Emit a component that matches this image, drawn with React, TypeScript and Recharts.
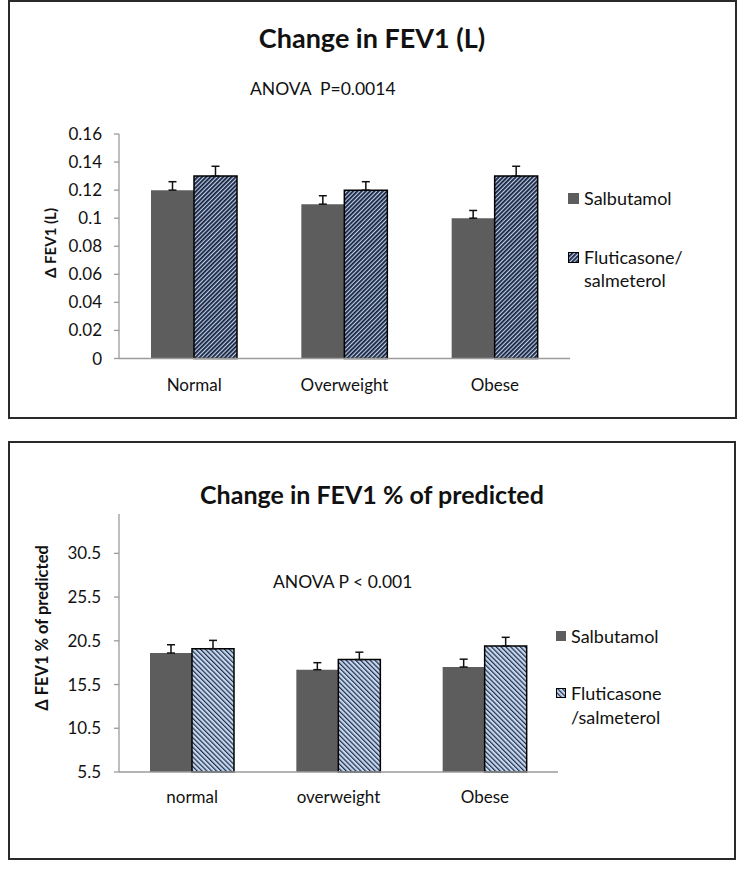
import React from "react";
import { BarChart, Bar, XAxis, YAxis, ErrorBar, Legend } from "recharts";

const FONT = "Lato, 'Open Sans', sans-serif";

// top panel: change in FEV1 (L)
const topGroups = ["Normal", "Overweight", "Obese"];
const topSalbutamol = [0.12, 0.11, 0.1];
const topSalbutamolErr = [0.006, 0.006, 0.0055];
const topFluticasone = [0.13, 0.12, 0.13];
const topFluticasoneErr = [0.007, 0.006, 0.007];
const topTicks = [0, 0.02, 0.04, 0.06, 0.08, 0.1, 0.12, 0.14, 0.16];
const topNames = ["Salbutamol", "Fluticasone/ salmeterol"];

// bottom panel: change in FEV1 % of predicted
const bottomGroups = ["normal", "overweight", "Obese"];
const bottomSalbutamol = [19.1, 17.2, 17.5];
const bottomSalbutamolErr = [0.95, 0.8, 0.9];
const bottomFluticasone = [19.6, 18.35, 19.9];
const bottomFluticasoneErr = [0.95, 0.85, 1.0];
const bottomTicks = [5.5, 10.5, 15.5, 20.5, 25.5, 30.5];
const bottomNames = ["Salbutamol", "Fluticasone /salmeterol"];

const SAL_FILL = "#5d5d5d";
const AXIS = "#9b9b9b";
const seriesOrder = ["sal", "flu"];

function buildRows(groups: string[], sal: number[], salErr: number[], flu: number[], fluErr: number[]) {
  return groups.map((g, i) => ({
    group: g,
    sal: sal[i],
    salErr: [0, salErr[i]],
    flu: flu[i],
    fluErr: [0, fluErr[i]],
  }));
}

const topData = buildRows(topGroups, topSalbutamol, topSalbutamolErr, topFluticasone, topFluticasoneErr);
const bottomData = buildRows(bottomGroups, bottomSalbutamol, bottomSalbutamolErr, bottomFluticasone, bottomFluticasoneErr);

function Hatch({ id, dir }: { id: string; dir: "up" | "down" }) {
  if (dir === "up") {
    return (
      <pattern id={id} width="3" height="3" patternUnits="userSpaceOnUse" patternTransform="rotate(45)">
        <rect width="3" height="3" fill="#bcd2ec" />
        <rect width="1.8" height="3" fill="#18203a" />
      </pattern>
    );
  }
  return (
    <pattern id={id} width="3.4" height="3.4" patternUnits="userSpaceOnUse" patternTransform="rotate(-45)">
      <rect width="3.4" height="3.4" fill="#c4d8ef" />
      <rect width="1.2" height="3.4" fill="#222c48" />
    </pattern>
  );
}

function makeLegend(opts: { size: number; lineHeight: number; rowGap: number; dir: "up" | "down"; id: string }) {
  return function LegendContent(props: any) {
    const payload = [...(props.payload || [])].sort(
      (a: any, b: any) => seriesOrder.indexOf(a.dataKey) - seriesOrder.indexOf(b.dataKey)
    );
    return (
      <div style={{ fontFamily: FONT, fontSize: 18, color: "#111", textAlign: "left" }}>
        {payload.map((entry: any, i: number) => (
          <div
            key={i}
            style={{ display: "flex", alignItems: "flex-start", lineHeight: `${opts.lineHeight}px`, marginTop: i === 0 ? 0 : opts.rowGap }}
          >
            <svg
              width={opts.size}
              height={opts.size}
              style={{ marginTop: (opts.lineHeight - opts.size) / 2, marginRight: 5, flex: "none" }}
            >
              {entry.dataKey === "flu" ? (
                <>
                  <defs>
                    <Hatch id={opts.id} dir={opts.dir} />
                  </defs>
                  <rect x={0.5} y={0.5} width={opts.size - 1} height={opts.size - 1} fill={`url(#${opts.id})`} stroke="#000" strokeWidth={1} />
                </>
              ) : (
                <rect width={opts.size} height={opts.size} fill={SAL_FILL} />
              )}
            </svg>
            <span style={{ width: 112 }}>{entry.value}</span>
          </div>
        ))}
      </div>
    );
  };
}

const TopLegend = makeLegend({ size: 11, lineHeight: 23, rowGap: 36, dir: "up", id: "legHatchUp" });
const BottomLegend = makeLegend({ size: 10, lineHeight: 24, rowGap: 33, dir: "down", id: "legHatchDown" });

function Txt({ x, y, size, bold, children, center }: any) {
  return (
    <div
      style={{
        position: "absolute",
        left: center ? 0 : x,
        width: center ? 744 : undefined,
        textAlign: center ? "center" : "left",
        top: y - size * 0.53,
        fontFamily: FONT,
        fontSize: size,
        fontWeight: bold ? 700 : 400,
        lineHeight: 1,
        whiteSpace: "pre",
        color: "#111",
      }}
    >
      {children}
    </div>
  );
}

function VTxt({ x, y, size, children }: any) {
  return (
    <div
      style={{
        position: "absolute",
        left: x,
        top: y,
        transform: "translate(-50%, -50%) rotate(-90deg)",
        fontFamily: FONT,
        fontSize: size,
        fontWeight: 700,
        lineHeight: 1,
        whiteSpace: "pre",
        color: "#111",
      }}
    >
      {children}
    </div>
  );
}

const tickStyle = { fill: "#111", fontSize: 17, fontFamily: FONT };

export default function App() {
  return (
    <div style={{ position: "absolute", left: 0, top: 0, width: 744, height: 870, background: "#fff", overflow: "hidden" }}>
      <div style={{ position: "absolute", left: 8, top: 0, width: 725, height: 415, border: "2px solid #2a2a2a" }} />
      <div style={{ position: "absolute", left: 8, top: 441, width: 724, height: 415, border: "2px solid #2a2a2a" }} />

      <div style={{ position: "absolute", left: 0, top: 0 }}>
        <BarChart
          width={744}
          height={420}
          data={topData}
          margin={{ top: 134, right: 174, bottom: 31.5, left: 59 }}
          barGap={0}
          barSize={43}
        >
          <defs>
            <Hatch id="hatchUp" dir="up" />
          </defs>
          <XAxis
            dataKey="group"
            tickLine={false}
            axisLine={{ stroke: AXIS, strokeWidth: 1.3 }}
            tick={tickStyle}
            tickMargin={14}
            height={30}
            interval={0}
          />
          <YAxis
            domain={[0, 0.16]}
            ticks={topTicks}
            interval={0}
            width={60}
            tickSize={5}
            tickMargin={12}
            tickLine={{ stroke: AXIS, strokeWidth: 1.3 }}
            axisLine={{ stroke: AXIS, strokeWidth: 1.3 }}
            tick={tickStyle}
          />
          <Legend
            content={TopLegend}
            layout="vertical"
            verticalAlign="middle"
            align="center"
            wrapperStyle={{ left: 568, top: 186.5, width: 170 }}
          />
          <Bar dataKey="sal" name={topNames[0]} fill={SAL_FILL} isAnimationActive={false}>
            <ErrorBar dataKey="salErr" width={4} stroke="#111" strokeWidth={1.5} />
          </Bar>
          <Bar dataKey="flu" name={topNames[1]} fill="url(#hatchUp)" stroke="#000" strokeWidth={1.5} isAnimationActive={false}>
            <ErrorBar dataKey="fluErr" width={4} stroke="#111" strokeWidth={1.5} />
          </Bar>
        </BarChart>
      </div>

      <div style={{ position: "absolute", left: 0, top: 440 }}>
        <BarChart
          width={744}
          height={430}
          data={bottomData}
          margin={{ top: 74, right: 186, bottom: 68, left: 59 }}
          barGap={0}
          barSize={42}
        >
          <defs>
            <Hatch id="hatchDown" dir="down" />
          </defs>
          <XAxis
            dataKey="group"
            tickLine={false}
            axisLine={{ stroke: AXIS, strokeWidth: 1.3 }}
            tick={tickStyle}
            tickMargin={13}
            height={30}
            interval={0}
          />
          <YAxis
            domain={[5.5, 35]}
            ticks={bottomTicks}
            interval={0}
            width={60}
            tickSize={5}
            tickMargin={13}
            tickLine={{ stroke: AXIS, strokeWidth: 1.3 }}
            axisLine={{ stroke: AXIS, strokeWidth: 1.3 }}
            tick={tickStyle}
          />
          <Legend
            content={BottomLegend}
            layout="vertical"
            verticalAlign="middle"
            align="center"
            wrapperStyle={{ left: 556, top: 184, width: 170 }}
          />
          <Bar dataKey="sal" name={bottomNames[0]} fill={SAL_FILL} isAnimationActive={false}>
            <ErrorBar dataKey="salErr" width={4} stroke="#111" strokeWidth={1.5} />
          </Bar>
          <Bar dataKey="flu" name={bottomNames[1]} fill="url(#hatchDown)" stroke="#000" strokeWidth={1.5} isAnimationActive={false}>
            <ErrorBar dataKey="fluErr" width={4} stroke="#111" strokeWidth={1.5} />
          </Bar>
        </BarChart>
      </div>

      <Txt center y={38} size={27} bold>Change in FEV1 (L)</Txt>
      <Txt x={250} y={89} size={17.5}>{"ANOVA  P=0.0014"}</Txt>
      <VTxt x={50} y={243} size={15}>Δ FEV1 (L)</VTxt>

      <Txt center y={495} size={25} bold>Change in FEV1 % of predicted</Txt>
      <Txt x={273} y={582} size={17.5}>ANOVA P &lt; 0.001</Txt>
      <VTxt x={42} y={628} size={16.5}>Δ FEV1 % of predicted</VTxt>
    </div>
  );
}
